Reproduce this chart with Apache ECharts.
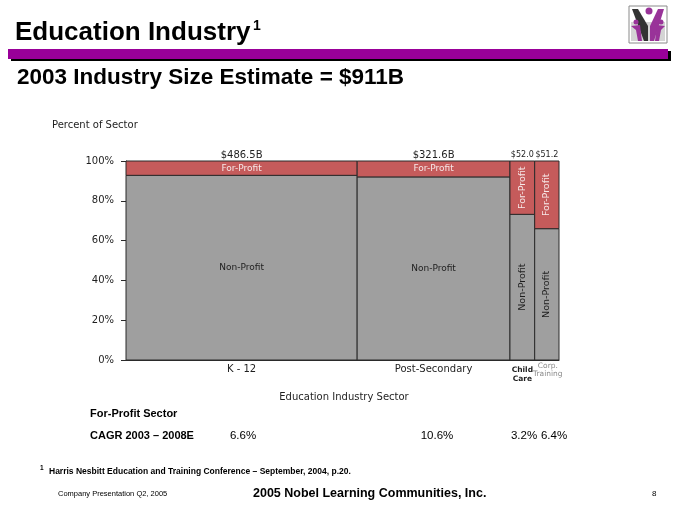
<!DOCTYPE html>
<html><head><meta charset="utf-8">
<script src="https://cdn.jsdelivr.net/npm/echarts@6/dist/echarts.min.js"></script>
<style>html,body{margin:0;padding:0;background:#fff}#c{width:680px;height:510px}</style>
</head><body><div id="c"></div>
<script>
// ---- data ----
const categories = ['K - 12', 'Post-Secondary', 'Child\nCare', 'Corp.\nTraining'];
const sizes = [486.5, 321.6, 52.0, 51.2];
const sizeLabels = ['$486.5B', '$321.6B', '$52.0', '$51.2'];
const forProfitPct = [7.2, 8.0, 26.8, 34.0];
const cagrLabels = ['6.6%', '10.6%', '3.2%', '6.4%'];
const yTicks = [0, 20, 40, 60, 80, 100];
const segmentNames = ['Non-Profit', 'For-Profit'];

// ---- build marimekko cells ----
const total = sizes.reduce((a, b) => a + b, 0);
const cells = [];
let acc = 0;
sizes.forEach((s, i) => {
  const fp = forProfitPct[i];
  cells.push([acc, acc + s, 0, 100 - fp, i, 0]);
  cells.push([acc, acc + s, 100 - fp, 100, i, 1]);
  acc += s;
});

const FONT = 'DejaVu Sans, Verdana, sans-serif';
const ARIAL = 'Liberation Sans, Arial, sans-serif';

function renderCell(params, api) {
  const x0 = api.value(0), x1 = api.value(1), y0 = api.value(2), y1 = api.value(3);
  const ci = api.value(4), kind = api.value(5);
  const tl = api.coord([x0, y1]);
  const br = api.coord([x1, y0]);
  const w = br[0] - tl[0], h = br[1] - tl[1];
  const cx = tl[0] + w / 2, cy = tl[1] + h / 2;
  const narrow = w < 40;
  const children = [{
    type: 'rect',
    shape: { x: tl[0], y: tl[1], width: w, height: h },
    style: { fill: kind === 1 ? '#c55b5b' : '#9f9f9f', stroke: '#2b2b2b', lineWidth: 1 }
  }, {
    type: 'text',
    x: cx, y: cy,
    rotation: narrow ? Math.PI / 2 : 0,
    style: {
      text: segmentNames[kind],
      fill: kind === 1 ? '#f6e8e8' : '#1e1e1e',
      font: (narrow ? '9.5px ' : '9px ') + FONT,
      align: 'center', verticalAlign: 'middle'
    }
  }];
  if (kind === 1) {
    children.push({
      type: 'text', x: cx, y: tl[1] - 6,
      style: {
        text: sizeLabels[ci], fill: '#1e1e1e',
        font: (narrow ? '8px ' : '10px ') + FONT,
        align: 'center', verticalAlign: 'middle'
      }
    });
  } else {
    if (ci < 2) {
      children.push({
        type: 'text', x: cx, y: br[1] + 9,
        style: { text: categories[ci], fill: '#1e1e1e', font: '10px ' + FONT, align: 'center', verticalAlign: 'middle' }
      });
    } else if (ci === 2) {
      children.push({
        type: 'text', x: cx, y: br[1] + 14.5,
        style: { text: categories[ci], fill: '#1e1e1e', font: 'bold 7.5px ' + FONT, align: 'center', verticalAlign: 'middle', lineHeight: 9 }
      });
    } else {
      children.push({
        type: 'text', x: cx + 1, y: br[1] + 10,
        style: { text: categories[ci], fill: '#8a8a8a', font: '7.5px ' + FONT, align: 'center', verticalAlign: 'middle', lineHeight: 8 }
      });
    }
  }
  return { type: 'group', children };
}

const cagrX = [243, 437, 524, 554];

const chart = echarts.init(document.getElementById('c'), null, { renderer: 'canvas' });
chart.setOption({
  animation: false,
  backgroundColor: '#fff',
  grid: { left: 126, right: 121, top: 161, bottom: 150 },
  xAxis: {
    type: 'value', min: 0, max: total,
    axisLine: { show: true, lineStyle: { color: '#2b2b2b', width: 1 } },
    axisTick: { show: false }, axisLabel: { show: false }, splitLine: { show: false }
  },
  yAxis: {
    type: 'value', min: yTicks[0], max: yTicks[yTicks.length - 1], interval: 20,
    axisLine: { show: true, lineStyle: { color: '#2b2b2b' } },
    axisTick: { show: true, length: 5, lineStyle: { color: '#2b2b2b' } },
    axisLabel: { formatter: '{value}%', color: '#1e1e1e', fontSize: 10, fontFamily: FONT, margin: 12 },
    splitLine: { show: false }
  },
  series: [{
    type: 'custom',
    renderItem: renderCell,
    data: cells,
    encode: { x: [0, 1], y: [2, 3] },
    clip: false
  }],
  graphic: [
    // title
    { type: 'text', x: 15, y: 33, style: { text: 'Education Industry', font: 'bold 26px ' + ARIAL, fill: '#000', verticalAlign: 'middle' } },
    { type: 'text', x: 253, y: 26, style: { text: '1', font: 'bold 14px ' + ARIAL, fill: '#000', verticalAlign: 'middle' } },
    // purple rule
    { type: 'rect', shape: { x: 11, y: 51, width: 660, height: 10 }, style: { fill: '#000' } },
    { type: 'rect', shape: { x: 8, y: 49, width: 660, height: 10 }, style: { fill: '#990099' } },
    // subtitle
    { type: 'text', x: 17, y: 78, style: { text: '2003 Industry Size Estimate = $911B', font: 'bold 22.5px ' + ARIAL, fill: '#000', verticalAlign: 'middle' } },
    // logo
    { type: 'group', children: [
      { type: 'rect', shape: { x: 629, y: 6, width: 38, height: 37 }, style: { fill: '#fff', stroke: '#8a8a8a', lineWidth: 1 } },
      { type: 'rect', shape: { x: 631, y: 22, width: 34, height: 19 }, style: { fill: '#d4d4d4' } },
      { type: 'polygon', shape: { points: [[632, 9], [638, 9], [648, 26], [648, 41], [644, 41]] }, style: { fill: '#333' } },
      { type: 'polygon', shape: { points: [[664, 9], [658, 9], [650, 26], [650, 41], [654, 41]] }, style: { fill: '#993399' } },
      { type: 'circle', shape: { cx: 649, cy: 11, r: 3.5 }, style: { fill: '#993399' } },
      { type: 'circle', shape: { cx: 636, cy: 22, r: 2.5 }, style: { fill: '#993399' } },
      { type: 'polygon', shape: { points: [[631, 26], [640, 25], [642, 41], [638, 41], [636, 30]] }, style: { fill: '#993399' } },
      { type: 'circle', shape: { cx: 661, cy: 22, r: 2.5 }, style: { fill: '#993399' } },
      { type: 'polygon', shape: { points: [[665, 26], [657, 25], [655, 41], [659, 41], [661, 30]] }, style: { fill: '#993399' } }
    ] },
    // axis titles
    { type: 'text', x: 52, y: 125, style: { text: 'Percent of Sector', font: '10px ' + FONT, fill: '#1e1e1e', verticalAlign: 'middle' } },
    { type: 'text', x: 344, y: 397, style: { text: 'Education Industry Sector', font: '10px ' + FONT, fill: '#1e1e1e', align: 'center', verticalAlign: 'middle' } },
    // CAGR block
    { type: 'text', x: 90, y: 414, style: { text: 'For-Profit Sector', font: 'bold 11px ' + ARIAL, fill: '#000', verticalAlign: 'middle' } },
    { type: 'text', x: 90, y: 436, style: { text: 'CAGR 2003 \u2013 2008E', font: 'bold 11px ' + ARIAL, fill: '#000', verticalAlign: 'middle' } },
    ...cagrLabels.map((t, i) => ({ type: 'text', x: cagrX[i], y: 436, style: { text: t, font: '11.5px ' + ARIAL, fill: '#000', align: 'center', verticalAlign: 'middle' } })),
    // footnote & footer
    { type: 'text', x: 40, y: 468, style: { text: '1', font: 'bold 6.5px ' + ARIAL, fill: '#000', verticalAlign: 'middle' } },
    { type: 'text', x: 49, y: 472, style: { text: 'Harris Nesbitt Education and Training Conference \u2013 September, 2004, p.20.', font: 'bold 8.5px ' + ARIAL, fill: '#000', verticalAlign: 'middle' } },
    { type: 'text', x: 58, y: 494, style: { text: 'Company Presentation Q2, 2005', font: '7.5px ' + ARIAL, fill: '#000', verticalAlign: 'middle' } },
    { type: 'text', x: 253, y: 494, style: { text: '2005 Nobel Learning Communities, Inc.', font: 'bold 12.5px ' + ARIAL, fill: '#000', verticalAlign: 'middle' } },
    { type: 'text', x: 652, y: 494, style: { text: '8', font: '8px ' + ARIAL, fill: '#000', verticalAlign: 'middle' } }
  ]
});
</script>
</body></html>
